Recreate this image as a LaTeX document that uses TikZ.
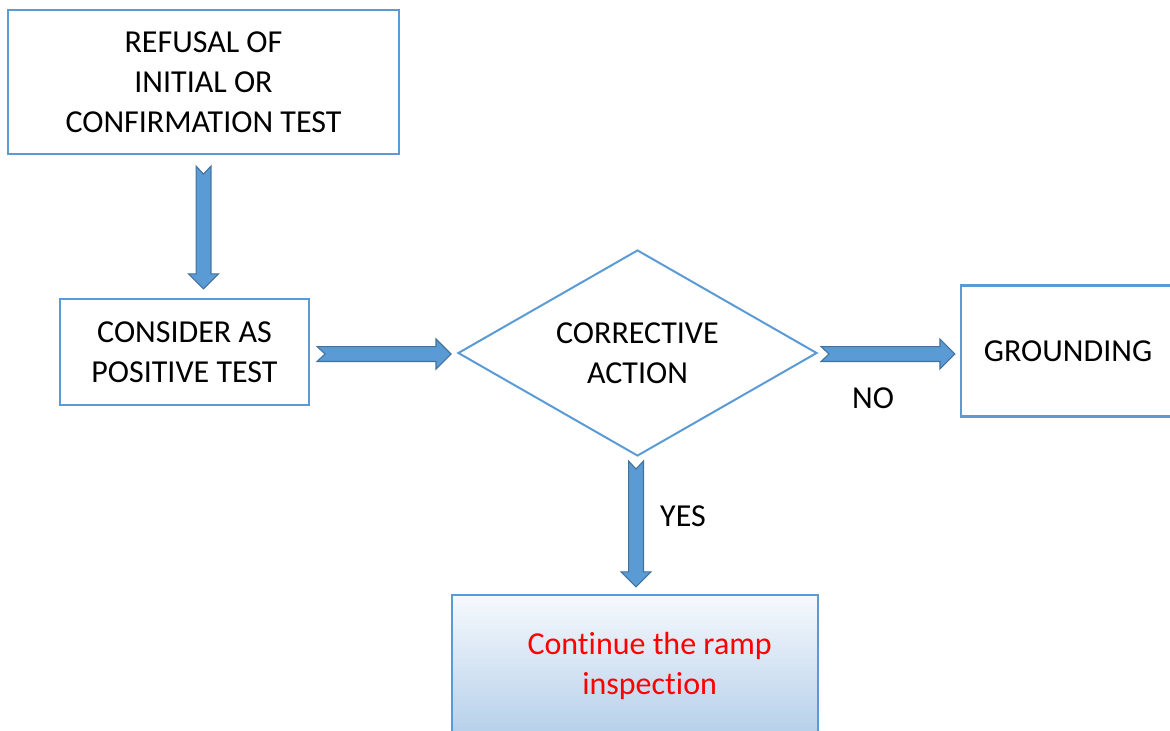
\documentclass[tikz,border=0pt]{standalone}
\usepackage{fontspec}
\setmainfont{Carlito}[Ligatures=NoCommon]
\usetikzlibrary{calc,positioning,shapes.geometric}

\definecolor{boxline}{RGB}{91,155,213}
\definecolor{arrowfill}{RGB}{91,155,213}
\definecolor{arrowline}{RGB}{65,113,156}
\definecolor{shadetop}{RGB}{246,249,253}
\definecolor{shadebot}{RGB}{176,204,232}

% thick block arrows with notched tail
\newcommand{\fatdown}[2]{%
  \draw[blockarrow] let \p1=(#1), \p2=(#2) in
    (\x1-5.6pt,\y1) -- (\x1,\y1-6pt) -- (\x1+5.6pt,\y1) -- (\x1+5.6pt,\y2+11.25pt)
    -- (\x1+11.25pt,\y2+11.25pt) -- (\x1,\y2) -- (\x1-11.25pt,\y2+11.25pt)
    -- (\x1-5.6pt,\y2+11.25pt) -- cycle;}
\newcommand{\fatright}[2]{%
  \draw[blockarrow] let \p1=(#1), \p2=(#2) in
    (\x1,\y1+5.6pt) -- (\x1+6pt,\y1) -- (\x1,\y1-5.6pt) -- (\x2-11.25pt,\y1-5.6pt)
    -- (\x2-11.25pt,\y1-11.25pt) -- (\x2,\y1) -- (\x2-11.25pt,\y1+11.25pt)
    -- (\x2-11.25pt,\y1+5.6pt) -- cycle;}

\begin{document}
\begin{tikzpicture}[x=0.75pt,y=-0.75pt,on grid,
    every node/.style={font=\fontsize{24}{30}\selectfont},
    box/.style={draw=boxline,line width=1.6pt,align=center,inner sep=0pt},
    decision/.style={diamond,draw=boxline,line width=1.5pt,align=center,inner sep=0pt,
      aspect=1.74,minimum width=269.25pt,minimum height=154.5pt},
    contbox/.style={draw=boxline,line width=1.6pt,top color=shadetop,bottom color=shadebot,
      minimum width=274.5pt,minimum height=113.75pt},
    blockarrow/.style={fill=arrowfill,draw=arrowline,line width=0.8pt,line join=miter}]
  \clip (0,0) rectangle (1170,731);
  \node[box,minimum width=293.25pt,minimum height=108pt] (refusal) at (203.5,82)
    {REFUSAL OF\\INITIAL OR\\CONFIRMATION TEST};
  \node[box,minimum width=186.75pt,minimum height=79.5pt] (positive)
    [below=202.5pt of refusal,xshift=-14.25pt] {CONSIDER AS\\POSITIVE TEST};
  \node[decision] (corrective) [right=339.75pt of positive,yshift=-0.75pt]
    {CORRECTIVE\\ACTION};
  \node[box,minimum width=160.5pt,minimum height=98.25pt] (grounding)
    [right=322.9pt of corrective,yshift=1.5pt] {GROUNDING};
  \node[contbox] (cont) [below=238.35pt of corrective,xshift=-1.9pt] {};
  \node[text=red,align=center] (contlbl) at ([xshift=11pt,yshift=3.6pt]cont.center)
    {Continue the ramp\\inspection};
  \node (no) at (873,398) {NO};
  \node (yes) at (683,516) {YES};

  \fatdown{$(refusal.south)+(0,11)$}{$(positive.north)+(0,-9)$}
  \fatright{$(positive.east)+(7,2)$}{$(corrective.west)+(-6,0)$}
  \fatright{$(corrective.east)+(3,1)$}{$(grounding.west)+(-5,0)$}
  \fatdown{$(corrective.south)+(-1.5,4)$}{$(cont.north)+(0,-7)$}
\end{tikzpicture}
\end{document}
